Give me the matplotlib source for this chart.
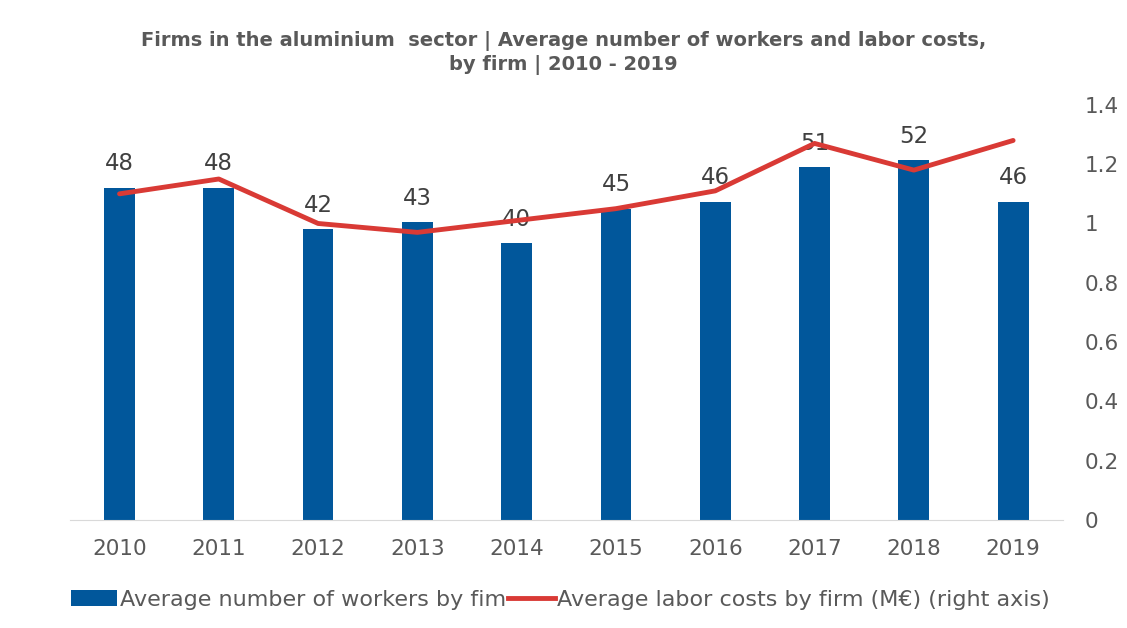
import matplotlib
matplotlib.use("Agg")
import matplotlib.pyplot as plt
from matplotlib.lines import Line2D
from matplotlib.patches import Patch

years = ["2010", "2011", "2012", "2013", "2014", "2015", "2016", "2017", "2018", "2019"]
workers = [48, 48, 42, 43, 40, 45, 46, 51, 52, 46]
labor_costs = [1.10, 1.15, 1.00, 0.97, 1.01, 1.05, 1.11, 1.27, 1.18, 1.28]
cost_ticks = [0, 0.2, 0.4, 0.6, 0.8, 1, 1.2, 1.4]

BLUE = "#01579B"
RED = "#D93A35"
TXT = "#595959"

fig = plt.figure(figsize=(11.27, 6.28), dpi=100)
ax = fig.add_axes([0.062, 0.172, 0.881, 0.661])
x = list(range(len(years)))
ax.bar(x, workers, width=0.31, color=BLUE, zorder=2)
ax.set_ylim(0, 60)
ax.set_xlim(-0.5, len(years) - 0.5)
for xi, v in zip(x, workers):
    ax.text(xi, v + 1.8, f"{v}", ha="center", va="bottom", fontsize=16.5,
            color="#404040", zorder=1)
ax.set_yticks([])
for s in ["top", "left", "right"]:
    ax.spines[s].set_visible(False)
ax.spines["bottom"].set_color("#D9D9D9")
ax.set_xticks(x)
ax.set_xticklabels(years, fontsize=15.5, color=TXT)
ax.tick_params(axis="x", length=0, pad=14)

ax2 = ax.twinx()
ax2.plot(x, labor_costs, color=RED, lw=3.5, solid_capstyle="round",
         solid_joinstyle="round", zorder=3)
ax2.set_ylim(0, 1.4)
ax2.set_yticks(cost_ticks)
ax2.set_yticklabels([f"{t:g}" for t in cost_ticks], fontsize=15.5, color=TXT)
ax2.tick_params(axis="y", length=0, pad=16)
for s in ["top", "left", "right", "bottom"]:
    ax2.spines[s].set_visible(False)

fig.text(0.5, 0.916, "Firms in the aluminium  sector | Average number of workers and labor costs,\nby firm | 2010 - 2019",
         ha="center", va="center", fontsize=14, fontweight="bold", color=TXT,
         linespacing=1.25)

handles = [Patch(facecolor=BLUE, edgecolor="none"),
           Line2D([0], [0], color=RED, lw=3.5)]
fig.legend(handles, ["Average number of workers by fim",
                     "Average labor costs by firm (M€) (right axis)"],
           loc="center left", bbox_to_anchor=(0.045, 0.045), ncol=2, frameon=False,
           prop={"size": 16}, handlelength=2.1, handletextpad=0.1,
           columnspacing=0.1, labelcolor=TXT)

fig.savefig("out.png", dpi=100, facecolor="white")
